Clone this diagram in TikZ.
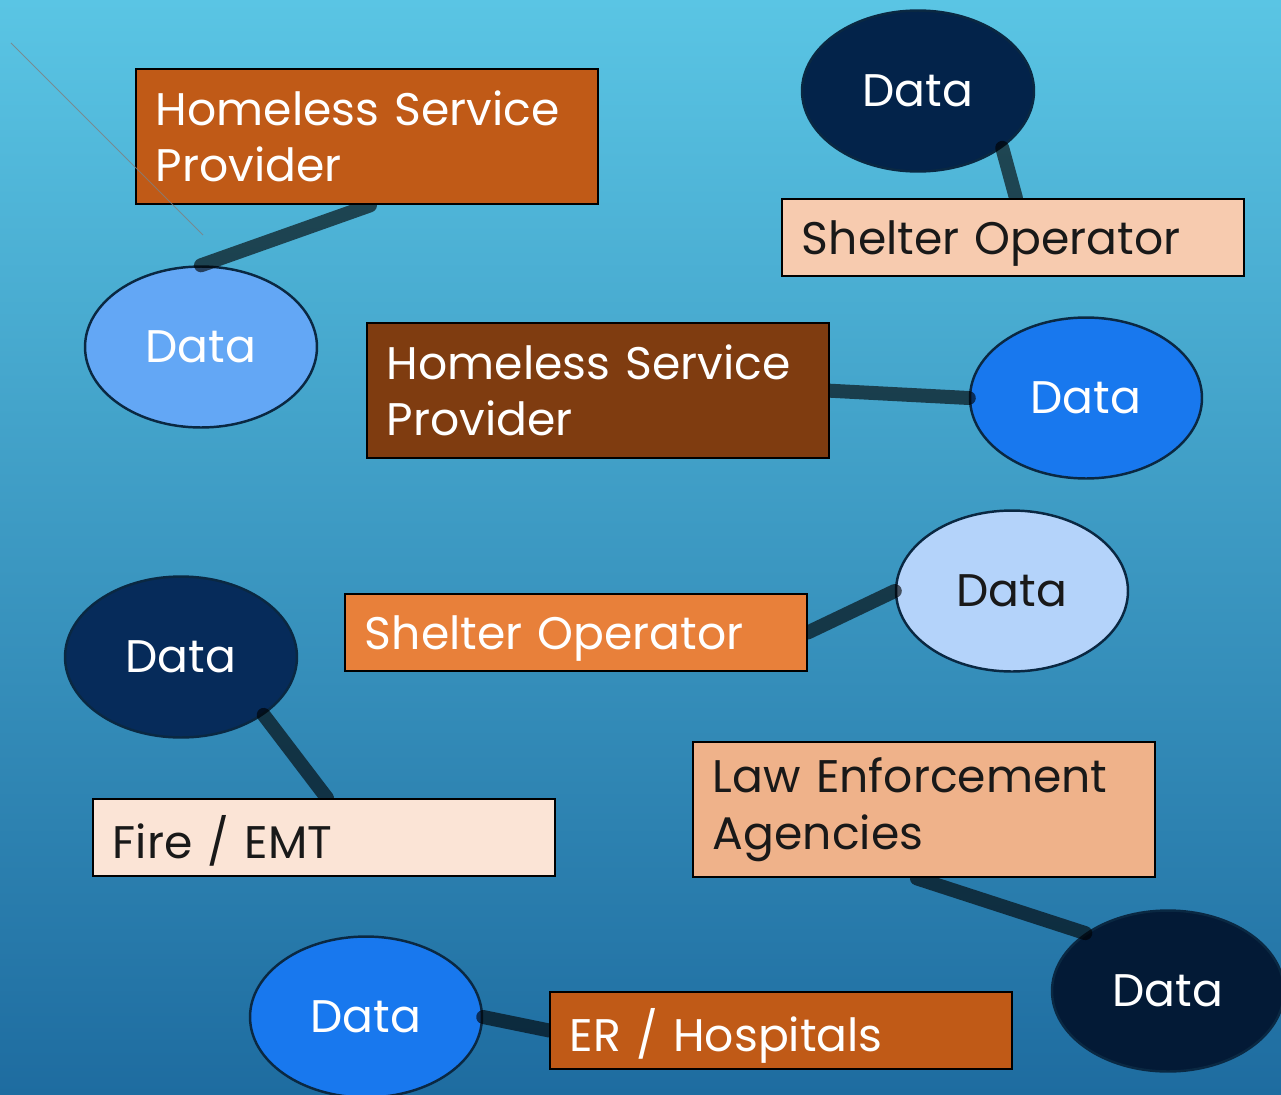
\documentclass[tikz,border=0pt]{standalone}
\usepackage{fontspec}
\setmainfont{Poppins}
\usetikzlibrary{shapes.geometric}
\pgfdeclarelayer{backdrop}
\pgfdeclarelayer{ovals}
\pgfdeclarelayer{links}
\pgfsetlayers{backdrop,ovals,links,main}

\definecolor{skytop}{RGB}{90,197,228}
\definecolor{skybot}{RGB}{30,108,160}
\definecolor{rust}{RGB}{192,90,23}
\definecolor{umber}{RGB}{127,60,16}
\definecolor{tangerine}{RGB}{232,128,58}
\definecolor{peach}{RGB}{247,203,175}
\definecolor{apricot}{RGB}{239,178,138}
\definecolor{blush}{RGB}{251,228,214}
\definecolor{navy}{RGB}{3,35,74}
\definecolor{deepnavy}{RGB}{3,26,54}
\definecolor{midnavy}{RGB}{6,43,90}
\definecolor{azure}{RGB}{24,120,238}
\definecolor{cornflower}{RGB}{99,167,245}
\definecolor{ice}{RGB}{180,211,250}
\definecolor{ink}{RGB}{25,25,25}
\definecolor{rim}{RGB}{10,40,66}

\tikzset{
  label font/.style={font=\fontsize{26}{32}\selectfont},
  card/.style={draw=black, line width=1.1pt, rectangle, anchor=north west,
    minimum width=9.24cm, text width=8.44cm, inner xsep=0.4cm, inner ysep=0pt,
    align=left, label font},
  tall/.style={card, minimum height=2.71cm},
  short/.style={card, minimum height=1.54cm, text depth=0pt},
  oval/.style={ellipse, draw=rim, line width=1.4pt, minimum width=4.64cm,
    minimum height=3.22cm, inner sep=0pt, label font},
  link/.style={line width=0.28cm, line cap=round, draw=black, draw opacity=0.62},
  hairline/.style={draw=gray, line width=0.6pt, draw opacity=0.8},
}

\begin{document}
\begin{tikzpicture}[x=0.02cm, y=-0.02cm]
  % backdrop
  \begin{pgfonlayer}{backdrop}
    \shade[top color=skytop, bottom color=skybot] (0,0) rectangle (1281,1095);
  \end{pgfonlayer}
  \useasboundingbox (0,0) rectangle (1281,1095);

  % data ovals
  \begin{pgfonlayer}{ovals}
    \node[oval, fill=navy, text=white]        (d1) at (918,91)   {Data};
    \node[oval, fill=cornflower, text=white]  (d2) at (201,347)  {Data};
    \node[oval, fill=azure, text=white]       (d3) at (1086,398) {Data};
    \node[oval, fill=ice, text=ink]           (d4) at (1012,591) {Data};
    \node[oval, fill=midnavy, text=white]     (d5) at (181,657)  {Data};
    \node[oval, fill=deepnavy, text=white]    (d6) at (1168,991) {Data};
    \node[oval, fill=azure, text=white]       (d7) at (366,1017) {Data};
  \end{pgfonlayer}

  % source cards
  \node[tall,  fill=rust,      text=white] (hsp1)    at (135,68)  {Homeless Service\\Provider};
  \node[short, fill=peach,     text=ink]   (shelt1)  at (781,198) {Shelter Operator};
  \node[tall,  fill=umber,     text=white] (hsp2)    at (366,322) {Homeless Service\\Provider};
  \node[short, fill=tangerine, text=white] (shelt2)  at (344,593) {Shelter Operator};
  \node[short, fill=blush,     text=ink]   (fire)    at (92,798)  {Fire / EMT};
  \node[tall,  fill=apricot,   text=ink]   (police)  at (692,741) {Law Enforcement\\Agencies};
  \node[short, fill=rust,      text=white] (er)      at (549,991) {ER / Hospitals};

  % links between cards and data
  \begin{pgfonlayer}{links}
    \draw[link] ([xshift=4.7cm]hsp1.south west) -- (d2.north);
    \draw[link] (d1.-34) -- ([xshift=4.7cm]shelt1.north west);
    \draw[link] (hsp2.east) -- (d3.west);
    \draw[link] (shelt2.east) -- (d4.west);
    \draw[link] (d5.-35) -- ([xshift=4.7cm]fire.north west);
    \draw[link] ([xshift=4.5cm]police.south west) -- (d6.145);
    \draw[link] (d7.east) -- (er.west);
  \end{pgfonlayer}

  % stray guide line
  \coordinate (g1) at (11,43);
  \coordinate (g2) at (203,235);
  \draw[hairline] (g1) -- (g2);
\end{tikzpicture}
\end{document}
